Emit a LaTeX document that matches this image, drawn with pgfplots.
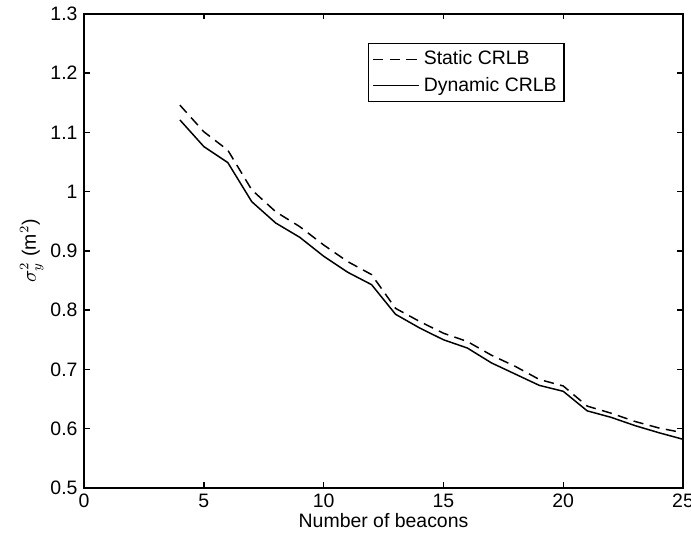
\documentclass[border=0pt]{standalone}
\usepackage{pgfplots}
\pgfplotsset{compat=1.18}
\usepackage{fontspec}
\setmainfont{Liberation Sans}

\pgfplotstableread{
n   static  dynamic
4   1.146   1.121
5   1.101   1.076
6   1.070   1.049
7   1.003   0.983
8   0.966   0.947
9   0.941   0.923
10  0.910   0.891
11  0.882   0.864
12  0.860   0.843
13  0.803   0.793
14  0.781   0.770
15  0.761   0.750
16  0.747   0.736
17  0.724   0.711
18  0.705   0.692
19  0.683   0.673
20  0.672   0.663
21  0.638   0.630
22  0.626   0.619
23  0.612   0.605
24  0.601   0.593
25  0.593   0.582
}\crlb

\begin{document}
\begin{tikzpicture}[x=1pt,y=1pt]
\useasboundingbox (-45.4,-24.3) rectangle (327.8,263.5);
\begin{axis}[
  at={(0,0)}, anchor=south west,
  scale only axis, width=323.5pt, height=256pt,
  xmin=0, xmax=25, ymin=0.5, ymax=1.3,
  xtick={0,5,...,25}, ytick={0.5,0.6,...,1.3},
  yticklabel style={/pgf/number format/fixed},
  /pgf/number format/assume math mode=true,
  tick align=inside, major tick length=3pt,
  ticklabel style={font=\fontsize{10.5}{12}\selectfont},
  label style={font=\fontsize{10.5}{12}\selectfont},
  xlabel={Number of beacons},
  ylabel={$\sigma_y^2$ (m$^2$)},
  xlabel style={yshift=4pt},
  ylabel style={yshift=-3pt},
  axis line style={line width=0.8pt},
  every tick/.style={black, line width=0.7pt},
  legend style={at={(0.474,0.939)}, anchor=north west,
    font=\fontsize{10.5}{12}\selectfont, draw=black, line width=0.7pt,
    inner sep=2pt, row sep=1pt, cells={anchor=west}},
  legend cell align=left,
  legend image code/.code={\draw[#1] (0pt,0pt) -- (25pt,0pt);},
]
\addplot[black, line width=0.8pt, dash pattern=on 5.5pt off 3.5pt] table[x=n, y=static] {\crlb};
\addlegendentry{Static CRLB}
\addplot[black, line width=0.8pt] table[x=n, y=dynamic] {\crlb};
\addlegendentry{Dynamic CRLB}
\end{axis}
\end{tikzpicture}
\end{document}
